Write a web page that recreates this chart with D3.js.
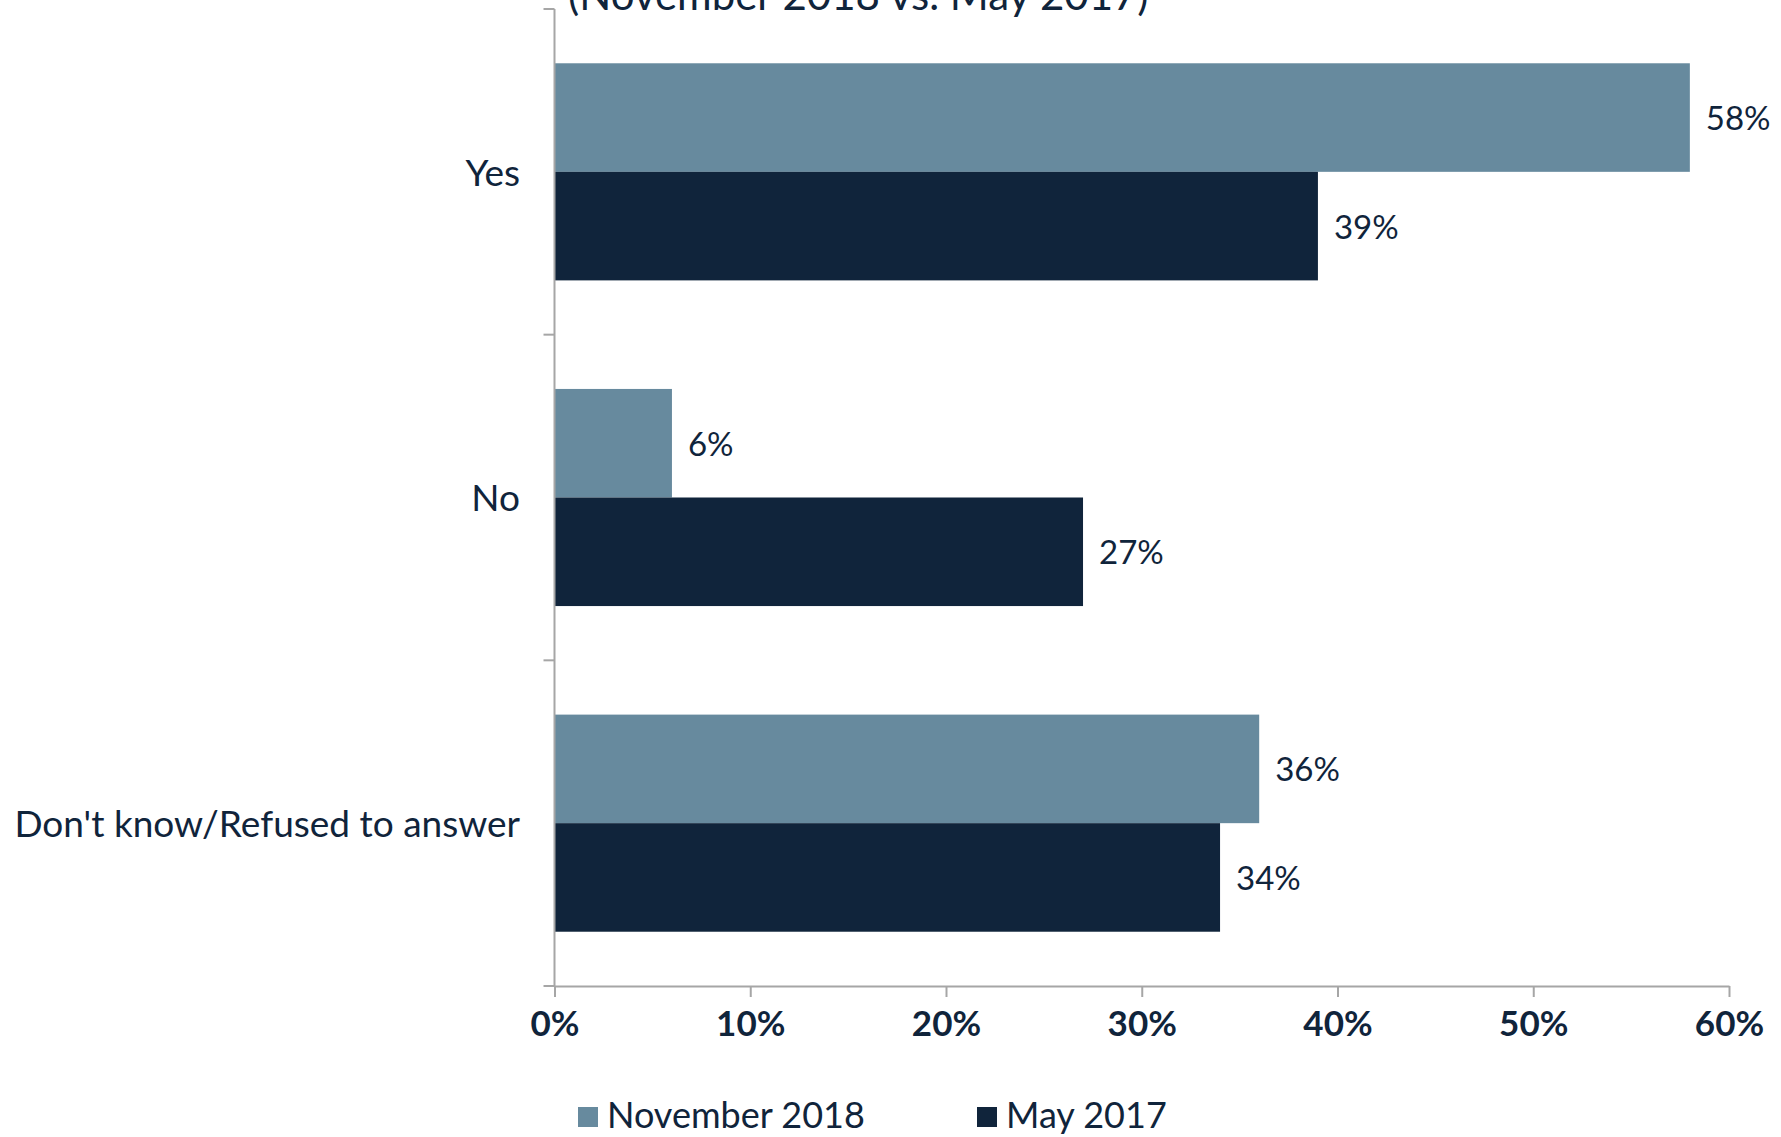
<!DOCTYPE html>
<html>
<head>
<meta charset="utf-8">
<script src="https://cdn.jsdelivr.net/npm/d3@7"></script>
<style>
  html, body { margin: 0; padding: 0; background: #ffffff; }
  svg { display: block; }
  text { font-family: Lato, "Open Sans", sans-serif; fill: #10243b; }
</style>
</head>
<body>
<svg id="chart" width="1781" height="1137"></svg>
<script>
// Survey answers, two waves
const categories = ["Yes", "No", "Don't know/Refused to answer"];
const seriesNames = ["November 2018", "May 2017"];
const nov2018 = [58, 6, 36];
const may2017 = [39, 27, 34];
const tickValues = [0, 10, 20, 30, 40, 50, 60];
const tickLabels = ["0%", "10%", "20%", "30%", "40%", "50%", "60%"];
const subtitle = "(November 2018 vs. May 2017)";

const colors = { "November 2018": "#678a9e", "May 2017": "#10243b" };
const axisColor = "#a6a6a6";

const svg = d3.select("#chart");

const plot = { left: 554.5, right: 1729, top: 9, bottom: 986 };

const x = d3.scaleLinear().domain([0, 60]).range([plot.left, plot.right]);
const y = d3.scaleBand().domain(categories).range([plot.top, plot.bottom]).padding(0);
const ySub = d3.scaleBand().domain(seriesNames).range([0, y.bandwidth()])
  .paddingInner(0).paddingOuter(0.5);

const rows = categories.map((c, i) => ({
  category: c,
  values: [
    { series: seriesNames[0], value: nov2018[i] },
    { series: seriesNames[1], value: may2017[i] }
  ]
}));

// Subtitle line running off the top edge
svg.append("text")
  .attr("x", 568)
  .attr("y", 10)
  .attr("font-size", 42)
  .text(subtitle);

// Bars
const groups = svg.append("g").selectAll("g")
  .data(rows)
  .join("g")
  .attr("transform", d => `translate(0,${y(d.category)})`);

groups.selectAll("rect")
  .data(d => d.values)
  .join("rect")
  .attr("x", x(0))
  .attr("y", d => ySub(d.series))
  .attr("width", d => x(d.value) - x(0))
  .attr("height", ySub.bandwidth())
  .attr("fill", d => colors[d.series]);

// Value labels
groups.selectAll("text.val")
  .data(d => d.values)
  .join("text")
  .attr("class", "val")
  .attr("x", d => x(d.value) + 16)
  .attr("y", d => ySub(d.series) + ySub.bandwidth() / 2 + 1)
  .attr("dy", "0.35em")
  .attr("font-size", 33)
  .text(d => d.value + "%");

// Category axis (left)
const yAxis = svg.append("g");
yAxis.append("line")
  .attr("x1", x(0)).attr("x2", x(0))
  .attr("y1", plot.top).attr("y2", plot.bottom)
  .attr("stroke", axisColor).attr("stroke-width", 2);
const boundaries = categories.map(c => y(c)).concat([plot.bottom]);
yAxis.selectAll("line.tick")
  .data(boundaries)
  .join("line")
  .attr("class", "tick")
  .attr("x1", x(0) - 11).attr("x2", x(0))
  .attr("y1", d => d).attr("y2", d => d)
  .attr("stroke", axisColor).attr("stroke-width", 2);
yAxis.selectAll("text")
  .data(categories)
  .join("text")
  .attr("x", 520)
  .attr("y", d => y(d) + y.bandwidth() / 2 + 1)
  .attr("dy", "0.35em")
  .attr("text-anchor", "end")
  .attr("font-size", 37)
  .text(d => d);

// Value axis (bottom)
const xAxis = svg.append("g")
  .attr("transform", `translate(0,${plot.bottom})`)
  .call(d3.axisBottom(x)
    .tickValues(tickValues)
    .tickFormat((d, i) => tickLabels[i])
    .tickSize(11)
    .tickSizeOuter(0)
    .tickPadding(14));
xAxis.select(".domain").attr("stroke", axisColor).attr("stroke-width", 2);
xAxis.selectAll(".tick line").attr("stroke", axisColor).attr("stroke-width", 2);
xAxis.selectAll(".tick text")
  .attr("font-family", "Lato, sans-serif")
  .attr("font-size", 35)
  .attr("font-weight", "bold")
  .attr("fill", "#10243b");

// Legend
const legendPos = [578, 977];
const legend = svg.append("g").selectAll("g")
  .data(seriesNames)
  .join("g")
  .attr("transform", (d, i) => `translate(${legendPos[i]},1107)`);
legend.append("rect")
  .attr("width", 20).attr("height", 20)
  .attr("fill", d => colors[d]);
legend.append("text")
  .attr("x", 29)
  .attr("y", 21)
  .attr("font-size", 36)
  .text(d => d);
</script>
</body>
</html>
